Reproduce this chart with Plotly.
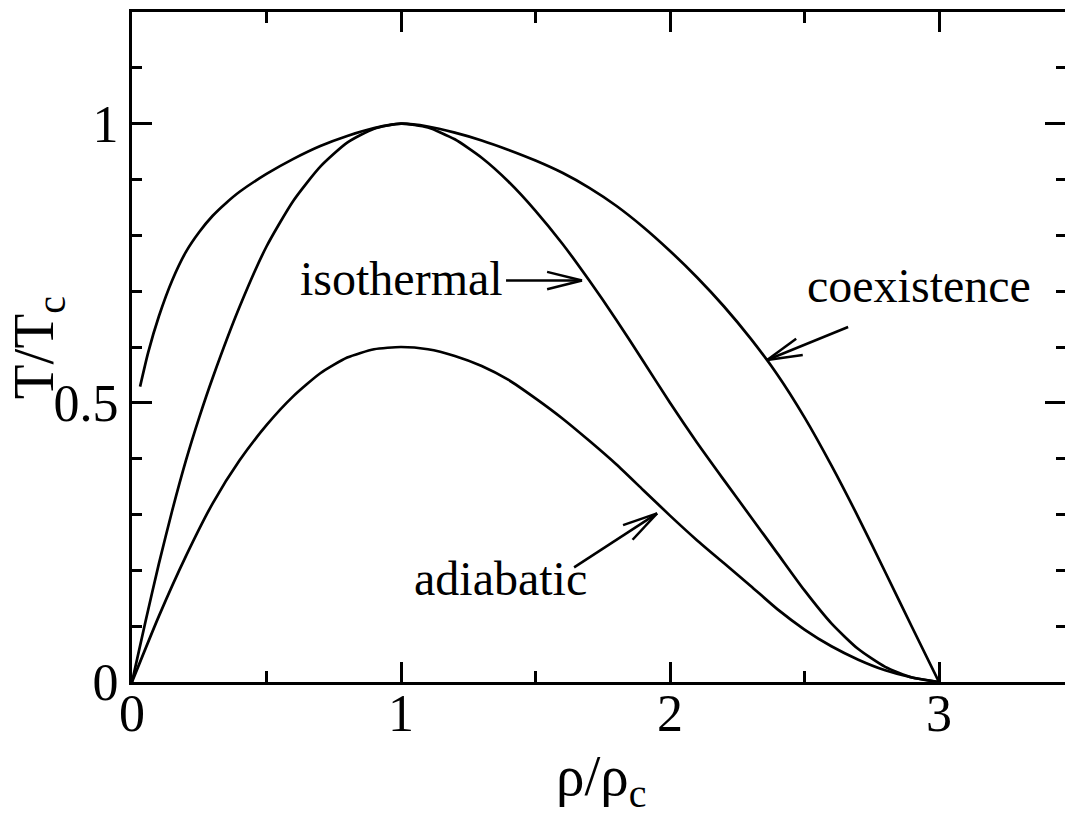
import math
import plotly.graph_objects as go

FONT = "Liberation Serif"

# Coexistence curve (reduced density, reduced temperature)
rho_coex = [0.03, 0.06, 0.1, 0.15, 0.2, 0.25, 0.3, 0.35, 0.4, 0.5, 0.6, 0.7, 0.8,
            0.9, 1.0, 1.1, 1.2, 1.3, 1.4, 1.5, 1.6, 1.7, 1.8, 1.9, 2.0, 2.1, 2.2,
            2.3, 2.4, 2.5, 2.6, 2.7, 2.8, 2.9, 3.0]
T_coex = [0.529, 0.590, 0.655, 0.720, 0.770, 0.806, 0.835, 0.858, 0.878, 0.910,
          0.937, 0.960, 0.978, 0.992, 1.000, 0.995, 0.984, 0.970, 0.953, 0.934,
          0.912, 0.885, 0.853, 0.815, 0.772, 0.725, 0.673, 0.615, 0.550, 0.474,
          0.388, 0.295, 0.197, 0.098, 0.000]

# Isothermal spinodal
rho_iso = [0.0, 0.05, 0.1, 0.15, 0.2, 0.25, 0.3, 0.4, 0.5, 0.6, 0.7, 0.8, 0.9,
           1.0, 1.1, 1.2, 1.3, 1.4, 1.5, 1.6, 1.7, 1.8, 1.9, 2.0, 2.1, 2.2, 2.3,
           2.4, 2.5, 2.6, 2.7, 2.8, 2.9, 3.0]
T_iso = [0.000, 0.108, 0.212, 0.308, 0.396, 0.474, 0.545, 0.672, 0.780, 0.862,
         0.923, 0.966, 0.991, 1.000, 0.993, 0.972, 0.939, 0.896, 0.844, 0.785,
         0.719, 0.649, 0.575, 0.500, 0.429, 0.362, 0.296, 0.230, 0.164, 0.105,
         0.059, 0.027, 0.008, 0.000]

# Adiabatic spinodal
rho_adi = [0.0, 0.1, 0.2, 0.3, 0.4, 0.5, 0.6, 0.7, 0.8, 0.9, 1.0, 1.1, 1.2, 1.3,
           1.4, 1.5, 1.6, 1.7, 1.8, 1.9, 2.0, 2.1, 2.2, 2.3, 2.4, 2.5, 2.6, 2.7,
           2.8, 2.9, 3.0]
T_adi = [0.000, 0.118, 0.225, 0.320, 0.397, 0.460, 0.512, 0.553, 0.581, 0.596,
         0.600, 0.596, 0.584, 0.566, 0.541, 0.508, 0.472, 0.432, 0.390, 0.344,
         0.298, 0.254, 0.213, 0.172, 0.130, 0.094, 0.064, 0.040, 0.021, 0.008,
         0.000]

x_tickvals = [0, 1, 2, 3]
x_ticktext = ["0", "1", "2", "3"]
y_tickvals = [0, 0.5, 1]
y_ticktext = ["0", "0.5", "1"]

# Curve labels: text, x, y, xanchor
labels = [
    ("isothermal", 1.385, 0.7235, "right"),
    ("coexistence", 2.500, 0.711, "left"),
    ("adiabatic", 1.040, 0.186, "left"),
]

# Arrows: tip in data coordinates, tail offset in pixels (right, up)
arrows = [
    (1.673, 0.719, -76, 0),
    (2.361, 0.5767, 81, 33),
    (1.952, 0.302, -83, -54),
]
BARB_LEN = 36
BARB_ANGLE = math.radians(14)

fig = go.Figure()
for xs, ys in [(rho_coex, T_coex), (rho_iso, T_iso), (rho_adi, T_adi)]:
    fig.add_trace(go.Scatter(
        x=xs, y=ys, mode="lines",
        line=dict(color="black", width=2.7, shape="spline", smoothing=0.6),
        showlegend=False, hoverinfo="skip",
    ))
# empty trace that carries the right-hand tick axis
fig.add_trace(go.Scatter(x=[], y=[], yaxis="y2", showlegend=False))

annotations = []
for text, x, y, xa in labels:
    annotations.append(dict(
        text=text, x=x, y=y, xref="x", yref="y", xanchor=xa, yanchor="middle",
        showarrow=False, font=dict(family=FONT, size=48, color="black"),
    ))


def pixel_line(x, y, dx, dy):
    """Line from the data point (x, y) to a pixel offset (dx, dy)."""
    return dict(
        type="line", xref="x", yref="y",
        xsizemode="pixel", ysizemode="pixel", xanchor=x, yanchor=y,
        x0=0, y0=0, x1=dx, y1=dy,
        line=dict(color="black", width=2.5), layer="above",
    )


shapes = []
for x, y, dx, dy in arrows:
    shapes.append(pixel_line(x, y, dx, dy))
    norm = math.hypot(dx, dy)
    ux, uy = dx / norm, dy / norm
    for s in (1, -1):
        c, sn = math.cos(s * BARB_ANGLE), math.sin(s * BARB_ANGLE)
        shapes.append(pixel_line(x, y, (ux * c - uy * sn) * BARB_LEN,
                                 (ux * sn + uy * c) * BARB_LEN))

# axis titles
annotations.append(dict(
    text="ρ/ρ<sub>c</sub>", x=0.5027, y=-0.146, xref="paper", yref="paper",
    xanchor="center", yanchor="middle", showarrow=False,
    font=dict(family=FONT, size=57, color="black"),
))
annotations.append(dict(
    text="T/T<sub>c</sub>", x=-0.1005, y=0.4985, xref="paper", yref="paper",
    xanchor="center", yanchor="middle", showarrow=False, textangle=-90,
    font=dict(family=FONT, size=57, color="black"),
))

axis_common = dict(
    showgrid=False, zeroline=False, ticks="inside", ticklen=20, tickwidth=3,
    tickcolor="black", tickfont=dict(family=FONT, size=52, color="black"),
)

fig.update_layout(
    width=1065, height=822,
    margin=dict(l=132, r=0, t=12, b=140),
    paper_bgcolor="white", plot_bgcolor="white",
    xaxis=dict(
        range=[0, 933 / 269], showline=True, linewidth=3, linecolor="black",
        mirror="ticks", tickvals=x_tickvals, ticktext=x_ticktext,
        ticklabelstandoff=-16,
        minor=dict(dtick=0.5, tick0=0, ticks="inside", ticklen=11, tickwidth=3,
                   tickcolor="black"),
        **axis_common,
    ),
    yaxis=dict(
        range=[0, 1.2], showline=True, linewidth=3, linecolor="black",
        tickvals=y_tickvals, ticktext=y_ticktext,
        minor=dict(dtick=0.1, tick0=0, ticks="inside", ticklen=10, tickwidth=3,
                   tickcolor="black"),
        **axis_common,
    ),
    yaxis2=dict(
        range=[0, 1.2], overlaying="y", side="right", anchor="x",
        showline=False, showticklabels=False,
        tickvals=y_tickvals,
        minor=dict(dtick=0.1, tick0=0, ticks="inside", ticklen=9, tickwidth=3,
                   tickcolor="black"),
        **axis_common,
    ),
    annotations=annotations,
    shapes=shapes,
)

fig.write_html("out.html")
